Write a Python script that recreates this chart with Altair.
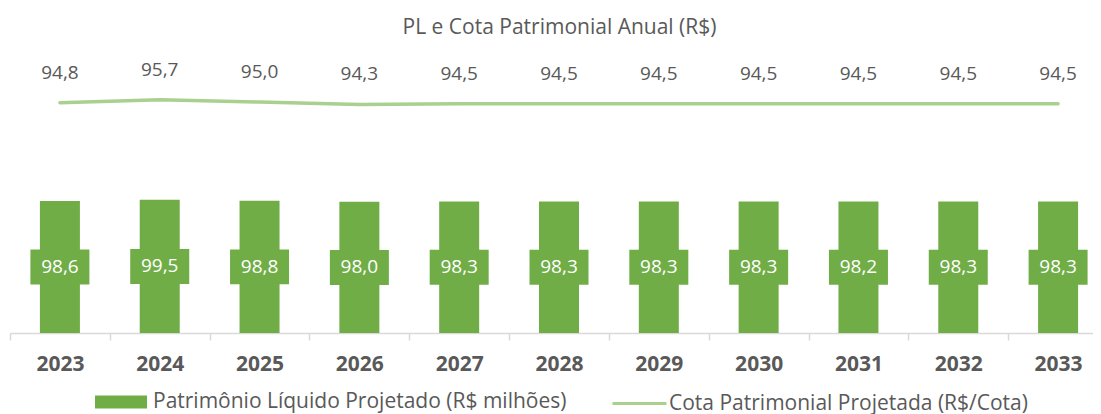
import altair as alt
import pandas as pd

years = ["2023", "2024", "2025", "2026", "2027", "2028", "2029", "2030", "2031", "2032", "2033"]
pl_values = [98.6, 99.5, 98.8, 98.0, 98.3, 98.3, 98.3, 98.3, 98.2, 98.3, 98.3]
cota_values = [94.8, 95.7, 95.0, 94.3, 94.5, 94.5, 94.5, 94.5, 94.5, 94.5, 94.5]

bar_name = "Patrimônio Líquido Projetado (R$ milhões)"
line_name = "Cota Patrimonial Projetada (R$/Cota)"
title_text = "PL e Cota Patrimonial Anual (R$)"

BAR_GREEN = "#70AD47"
LINE_GREEN = "#A9D08E"
TEXT = "#595959"
FONT = "Open Sans"

df = pd.DataFrame({"year": years, "pl": pl_values, "cota": cota_values})

base = alt.Chart(df)
x = alt.X("year:N", title=None, sort=years,
          scale=alt.Scale(paddingInner=0, paddingOuter=0, range=[0, 1098]),
          axis=alt.Axis(labelFont=FONT, labelFontSize=21, labelFontWeight="bold",
                        labelColor=TEXT, domainColor="#D9D9D9", domainWidth=1.5,
                        tickColor="#D9D9D9", tickWidth=1.5, tickSize=7, tickBand="extent",
                        labelPadding=13, labelAngle=0, grid=False))
y_bar = alt.Y("pl:Q", axis=None, scale=alt.Scale(domain=[0, 211.4]))
y_half = alt.Y("half:Q", axis=None, scale=alt.Scale(domain=[0, 211.4]))
y_line = alt.Y("cota:Q", axis=None, scale=alt.Scale(domain=[25, 110.8], zero=False))

bar_shape = "M-1,-0.25L1,-0.25L1,0.25L-1,0.25Z"
line_shape = "M-1,0L1,0"

bar_legend = alt.Legend(
    orient="none", legendX=85, legendY=326, direction="horizontal", title=None,
    labelFont=FONT, labelFontSize=21, labelColor=TEXT, labelLimit=800,
    symbolSize=2704, symbolType=bar_shape, symbolStrokeWidth=0, labelOffset=6)
line_legend = alt.Legend(
    orient="none", legendX=601, legendY=325, direction="horizontal", title=None,
    labelFont=FONT, labelFontSize=21, labelColor=TEXT, labelLimit=800,
    symbolSize=2916, symbolType=line_shape, symbolStrokeWidth=3, labelOffset=1)

bars = base.transform_calculate(s=f"'{bar_name}'").mark_bar(width=40, opacity=1).encode(
    x=x, y=y_bar,
    fill=alt.Fill("s:N", scale=alt.Scale(domain=[bar_name], range=[BAR_GREEN]), legend=bar_legend))

boxes = base.transform_calculate(half="datum.pl / 2").mark_point(
    shape="M-1,-0.593L1,-0.593L1,0.593L-1,0.593Z", size=3481, filled=True,
    opacity=1, color=BAR_GREEN, strokeWidth=0).encode(x=x, y=y_half)

bar_labels = base.transform_calculate(
    half="datum.pl / 2",
    lab="replace(format(datum.pl, '.1f'), '.', ',')").mark_text(
    font=FONT, fontSize=19, color="white", baseline="middle").encode(
    x=x, y=y_half, text="lab:N")

line = base.transform_calculate(s=f"'{line_name}'").mark_line(
    strokeWidth=3.5, strokeCap="round", opacity=1).encode(
    x=x, y=y_line,
    stroke=alt.Stroke("s:N", scale=alt.Scale(domain=[line_name], range=[LINE_GREEN]), legend=line_legend))

line_labels = base.transform_calculate(
    lab="replace(format(datum.cota, '.1f'), '.', ',')").mark_text(
    font=FONT, fontSize=19, color=TEXT, baseline="middle", dy=-30).encode(
    x=x, y=y_line, text="lab:N")

chart = alt.layer(bars, boxes, bar_labels, line, line_labels).resolve_scale(
    y="independent").properties(
    width=1083, height=283,
    title=alt.TitleParams(title_text, font=FONT, fontSize=21, fontWeight="normal",
                          color=TEXT, anchor="middle", offset=12, dx=8),
    autosize=alt.AutoSizeParams(type="none"),
    padding={"left": 2, "top": 42, "right": 0, "bottom": 81},
).configure_view(stroke=None)

chart.save("out.html", embed_options={"renderer": "svg", "actions": False})
